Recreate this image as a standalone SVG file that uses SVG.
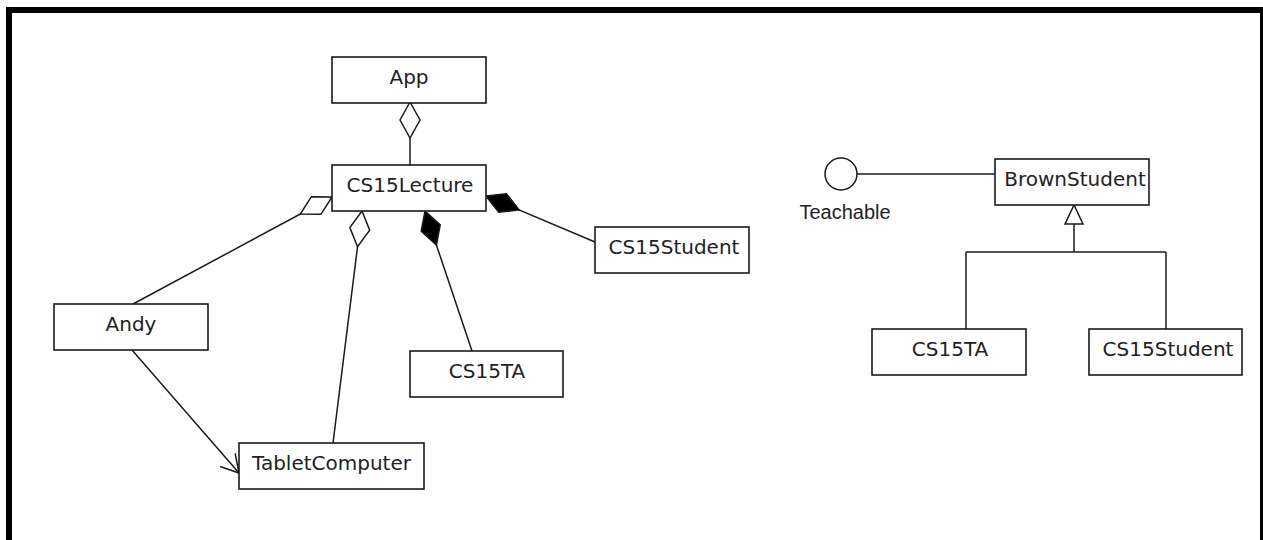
<svg xmlns="http://www.w3.org/2000/svg" width="1263" height="540" viewBox="0 0 1263 540">
<style>
.box{fill:#fff;stroke:#1a1a1a;stroke-width:1.6}
.lbl{font-family:"DejaVu Sans",Verdana,sans-serif;font-size:20px;fill:#222;text-anchor:middle}
.ifl{font-family:"Liberation Sans",Arial,sans-serif;font-size:20px;fill:#222;text-anchor:middle}
.edge{fill:none;stroke:#1a1a1a;stroke-width:1.5}
</style>
<defs>
<marker id="dHollow" markerUnits="userSpaceOnUse" viewBox="-2 -12 40 24" markerWidth="40" markerHeight="24" refX="0" refY="0" orient="auto" overflow="visible">
<path d="M0,0 L18,-10 L36,0 L18,10 Z" fill="#fff" stroke="#1a1a1a" stroke-width="1.5"/>
</marker>
<marker id="dFilled" markerUnits="userSpaceOnUse" viewBox="-2 -12 40 24" markerWidth="40" markerHeight="24" refX="0" refY="0" orient="auto" overflow="visible">
<path d="M0,0 L18,-10 L36,0 L18,10 Z" fill="#000" stroke="#1a1a1a" stroke-width="1.5"/>
</marker>
<marker id="open" markerUnits="userSpaceOnUse" viewBox="-22 -12 24 24" markerWidth="24" markerHeight="24" refX="0" refY="0" orient="auto" overflow="visible">
<path d="M-17.3,-10 L0,0 L-17.3,10" fill="none" stroke="#1a1a1a" stroke-width="1.5"/>
</marker>
</defs>
<rect width="1263" height="540" fill="#fff"/>
<rect x="9" y="10" width="1254" height="600" fill="none" stroke="#000" stroke-width="6"/>
<g id="connectors">
<path class="edge" d="M410,102 V165" marker-start="url(#dHollow)"/>
<path class="edge" d="M332,197 L133,304" marker-start="url(#dHollow)"/>
<path class="edge" d="M362,211 L333,443" marker-start="url(#dHollow)"/>
<path class="edge" d="M425,211 L472,351" marker-start="url(#dFilled)"/>
<path class="edge" d="M486,196 L595,242" marker-start="url(#dFilled)"/>
<path class="edge" d="M132,350 L239,473" marker-end="url(#open)"/>
<path class="edge" d="M857,174 H995"/>
<path class="edge" d="M1074,224 V252 M966,252 H1166 M966,252 V329 M1166,252 V329"/>
<polygon points="1074,205 1065,224 1083,224" fill="#fff" stroke="#1a1a1a" stroke-width="1.5"/>
</g>
<g id="App"><rect class="box" x="332" y="57" width="154" height="46"/><text class="lbl" x="409" y="84">App</text></g>
<g id="CS15Lecture"><rect class="box" x="332" y="165" width="154" height="46"/><text class="lbl" x="410" y="192">CS15Lecture</text></g>
<g id="Andy"><rect class="box" x="54" y="304" width="154" height="46"/><text class="lbl" x="131" y="331">Andy</text></g>
<g id="TabletComputer"><rect class="box" x="239" y="443" width="185" height="46"/><text class="lbl" x="331.5" y="470">TabletComputer</text></g>
<g id="CS15TA-left"><rect class="box" x="410" y="351" width="153" height="46"/><text class="lbl" x="487" y="378">CS15TA</text></g>
<g id="CS15Student-left"><rect class="box" x="595" y="227" width="154" height="46"/><text class="lbl" x="674" y="254">CS15Student</text></g>
<g id="Teachable"><circle cx="841" cy="174" r="16" fill="#fff" stroke="#1a1a1a" stroke-width="1.5"/><text class="ifl" x="845" y="219">Teachable</text></g>
<g id="BrownStudent"><rect class="box" x="995" y="159" width="154" height="46"/><text class="lbl" x="1075" y="186">BrownStudent</text></g>
<g id="CS15TA-right"><rect class="box" x="872" y="329" width="154" height="46"/><text class="lbl" x="950" y="356">CS15TA</text></g>
<g id="CS15Student-right"><rect class="box" x="1089" y="329" width="153" height="46"/><text class="lbl" x="1168" y="356">CS15Student</text></g>
</svg>
